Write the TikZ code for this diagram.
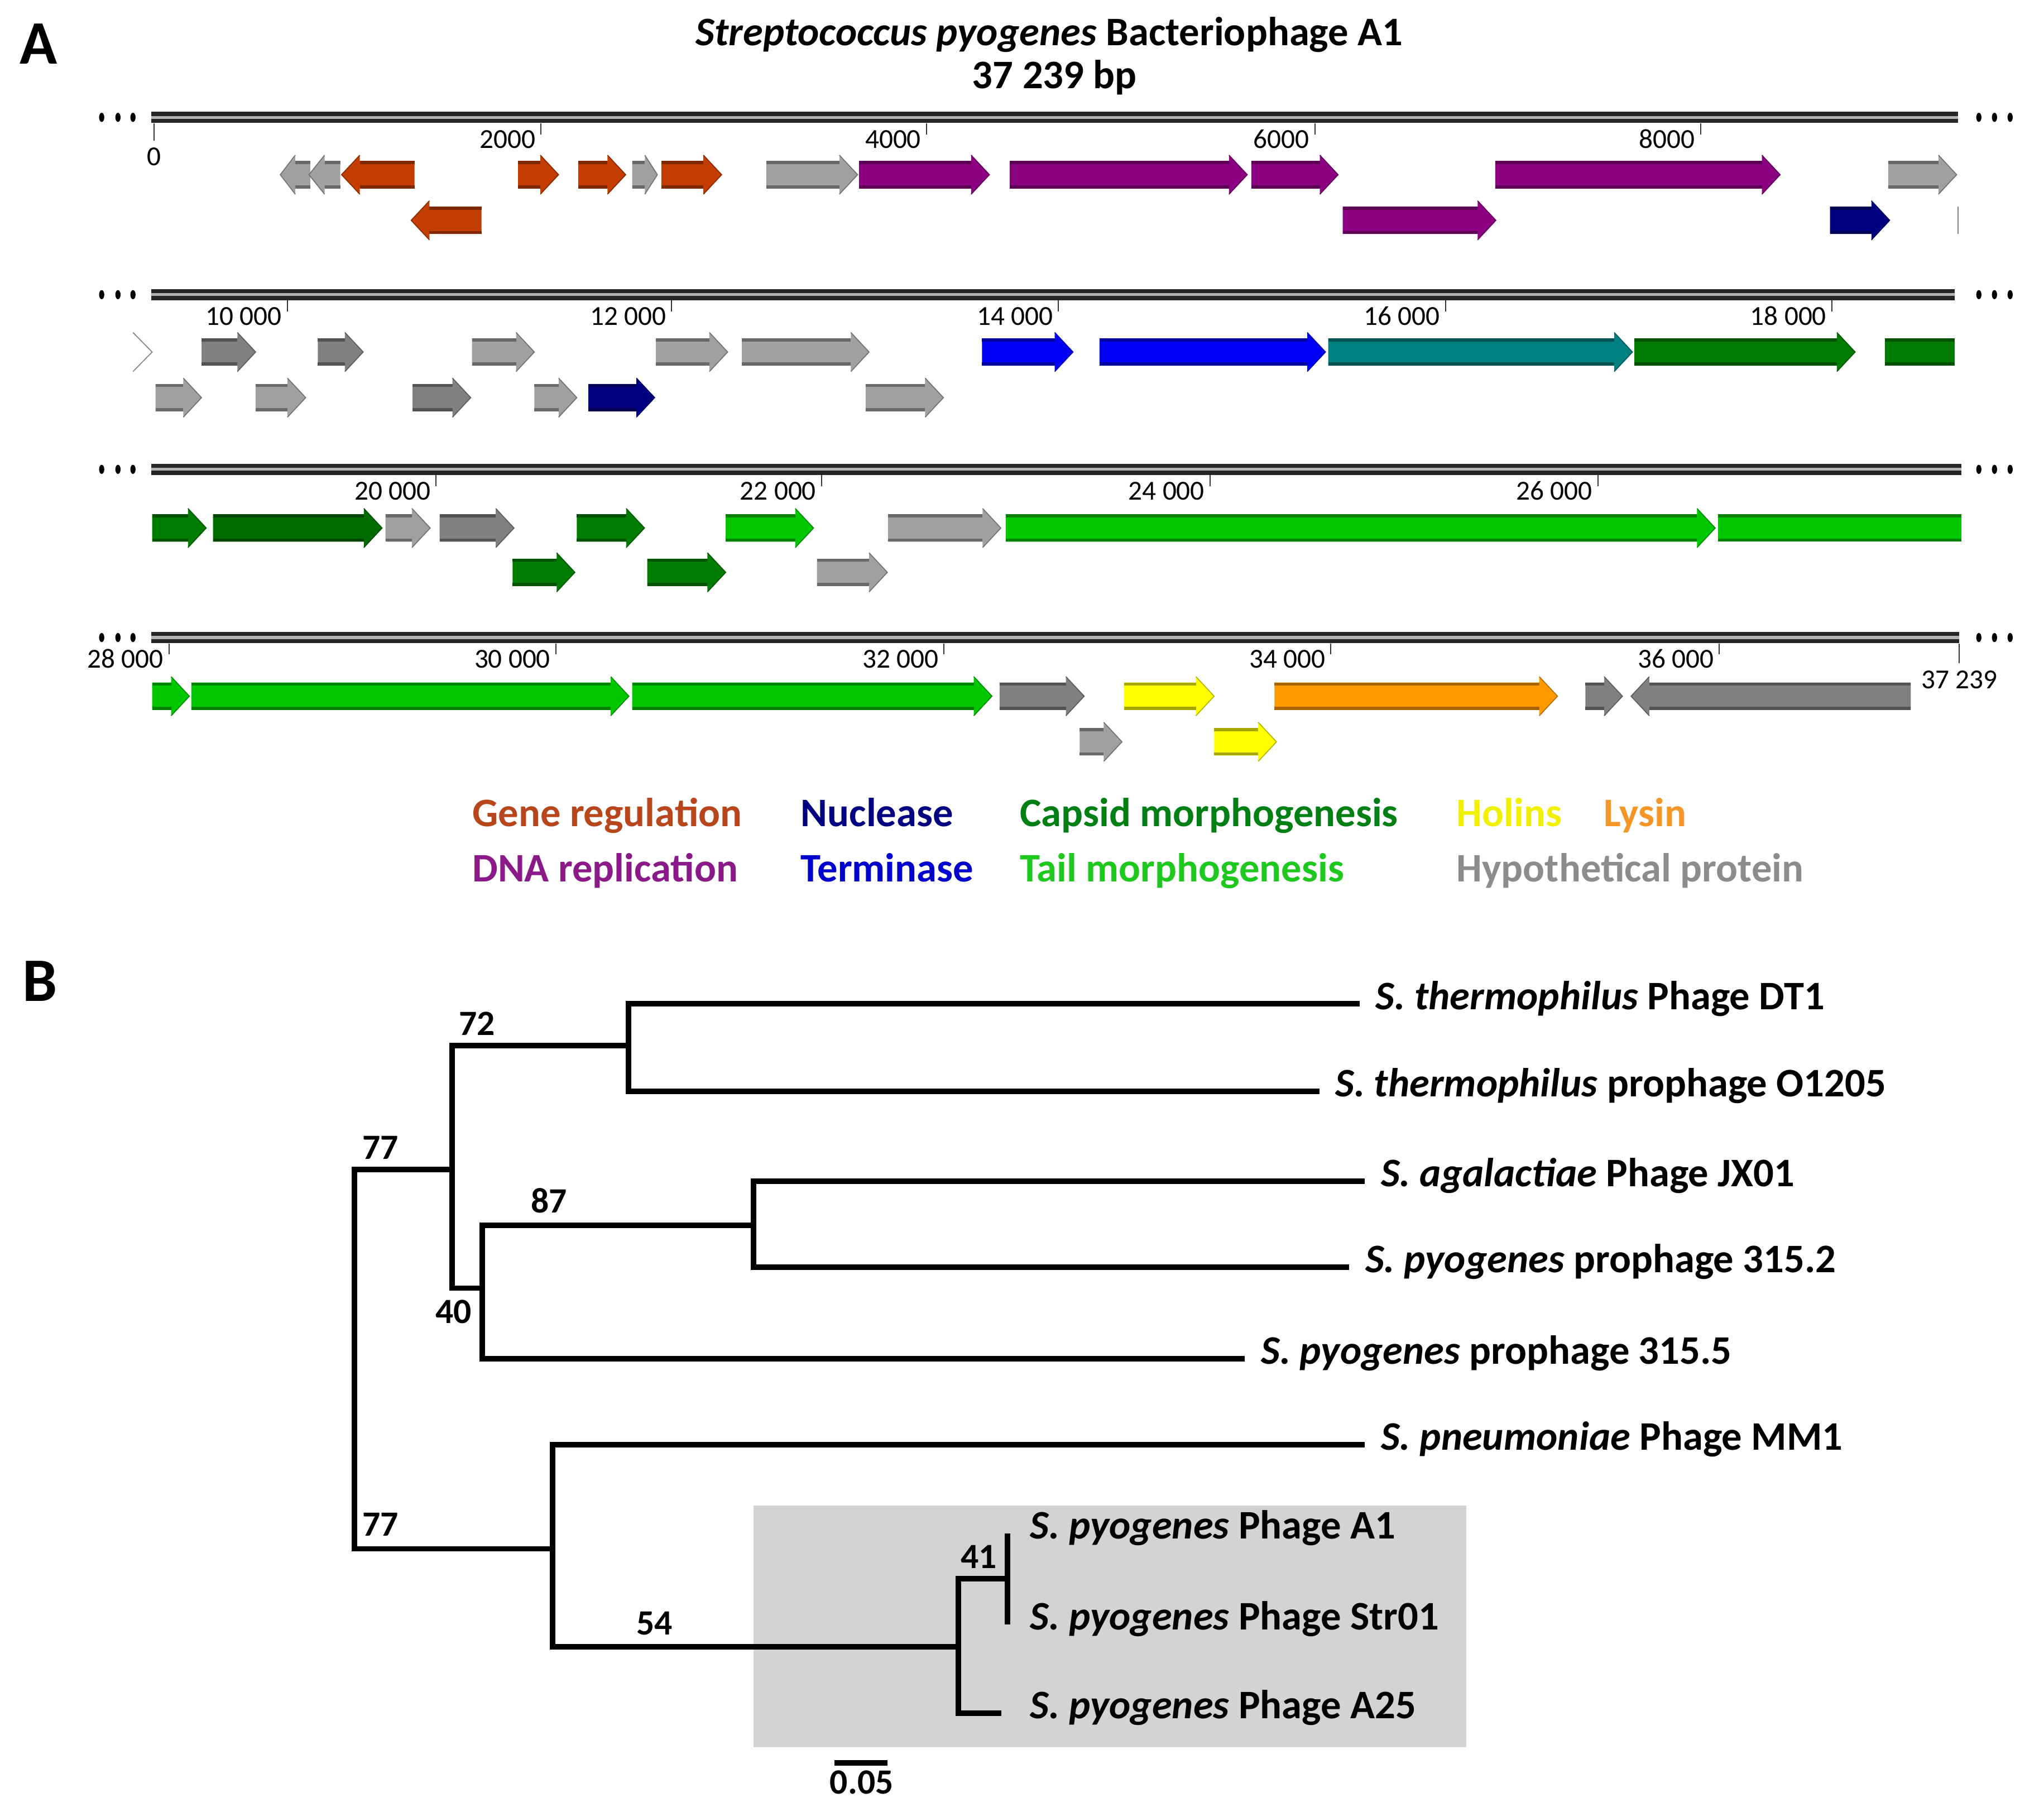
\documentclass[tikz,border=0pt]{standalone}
\usepackage{fontspec}
\setmainfont{Carlito}

\definecolor{generg}{RGB}{195,60,0}
\definecolor{dnarep}{RGB}{140,0,130}
\definecolor{nucl}{RGB}{0,0,128}
\definecolor{term}{RGB}{0,0,245}
\definecolor{portal}{RGB}{0,128,128}
\definecolor{capsid}{RGB}{0,125,0}
\definecolor{capsiddk}{RGB}{0,108,0}
\definecolor{tail}{RGB}{0,200,0}
\definecolor{holin}{RGB}{255,255,0}
\definecolor{lysin}{RGB}{255,153,0}
\definecolor{hypo}{RGB}{160,160,160}
\definecolor{hypodk}{RGB}{128,128,128}
\definecolor{txgenerg}{RGB}{183,70,28}
\definecolor{txdnarep}{RGB}{139,26,137}
\definecolor{txnucl}{RGB}{0,0,128}
\definecolor{txterm}{RGB}{0,0,204}
\definecolor{txcapsid}{RGB}{0,128,20}
\definecolor{txtail}{RGB}{30,200,30}
\definecolor{txholin}{RGB}{240,240,0}
\definecolor{txlysin}{RGB}{245,150,40}
\definecolor{txhypo}{RGB}{140,140,140}
\definecolor{cladebox}{RGB}{211,211,211}

\tikzset{geneedge/.style = {line width=1.4pt}}

% forward gene: start, tip, lane y, colour
\newcommand\genefwd[4]{%
  \pgfmathsetmacro\hbase{#2-min(14,0.5*(#2-#1))}%
  \fill[#4] (#1,#3-10.5) -- (\hbase,#3-10.5) -- (\hbase,#3-15) -- (#2,#3)
    -- (\hbase,#3+15) -- (\hbase,#3+10.5) -- (#1,#3+10.5) -- cycle;
  \draw[geneedge, draw=#4!65!black] (#1,#3-9.3) -- (\hbase,#3-9.3)
    (#1,#3+9.3) -- (\hbase,#3+9.3);
  \draw[draw=#4!70!black] (\hbase,#3-15) -- (#2,#3) -- (\hbase,#3+15);
}
% reverse gene: tip, end, lane y, colour
\newcommand\generev[4]{%
  \pgfmathsetmacro\hbase{#1+min(14,0.5*(#2-#1))}%
  \fill[#4] (#2,#3-10.5) -- (\hbase,#3-10.5) -- (\hbase,#3-15) -- (#1,#3)
    -- (\hbase,#3+15) -- (\hbase,#3+10.5) -- (#2,#3+10.5) -- cycle;
  \draw[geneedge, draw=#4!65!black] (#2,#3-9.3) -- (\hbase,#3-9.3)
    (#2,#3+9.3) -- (\hbase,#3+9.3);
  \draw[draw=#4!70!black] (\hbase,#3-15) -- (#1,#3) -- (\hbase,#3+15);
}
% gene cut at the row end
\newcommand\genebox[4]{%
  \fill[#4] (#1,#3-10.5) rectangle (#2,#3+10.5);
  \draw[geneedge, draw=#4!65!black] (#1,#3-9.3) -- (#2,#3-9.3)
    (#1,#3+9.3) -- (#2,#3+9.3);
}
% backbone: line y, end x
\newcommand\genomerow[2]{%
  \draw[backbone] (116,#1) -- (#2,#1);
  \fill (78,#1) ellipse [x radius=0.04cm, y radius=0.07cm]
        (90.5,#1) ellipse [x radius=0.04cm, y radius=0.07cm]
        (102,#1) ellipse [x radius=0.04cm, y radius=0.07cm]
        (1518,#1) ellipse [x radius=0.04cm, y radius=0.07cm]
        (1530,#1) ellipse [x radius=0.04cm, y radius=0.07cm]
        (1542,#1) ellipse [x radius=0.04cm, y radius=0.07cm];
}
% tick: name, x, line y, label
\newcommand\bptick[4]{%
  \draw[tickline] (#2,#3+4.5) -- (#2,#3+13);
  \node (#1) [ticklabel, anchor=base east] at (#2-4,#3+23.5) {#4};
}

\begin{document}
\begin{tikzpicture}[
    x = 0.02cm, y = -0.02cm,
    panel/.style     = {anchor=base west, inner sep=0pt,
                        font=\fontsize{27}{30}\selectfont\bfseries},
    heading/.style   = {anchor=base, inner sep=0pt,
                        font=\fontsize{17.7}{21}\selectfont\bfseries},
    legend/.style    = {anchor=base west, inner sep=0pt,
                        font=\fontsize{17.7}{21}\selectfont\bfseries},
    ticklabel/.style = {inner sep=0pt, font=\fontsize{12}{14}\selectfont},
    tickline/.style  = {line width=0.5pt, black!80},
    backbone/.style  = {draw=black!85, line width=1.8pt,
                        double=gray!60, double distance=1.3pt},
    leaf/.style      = {anchor=mid west, inner xsep=0.24cm, inner ysep=0pt,
                        font=\fontsize{17.7}{21}\selectfont\bfseries},
    boot/.style      = {anchor=base, inner sep=0pt,
                        font=\fontsize{15.5}{18}\selectfont\bfseries},
    branch/.style    = {line width=2.4pt}
]
\useasboundingbox (0,0) rectangle (1568,1386);

\node (pA) [panel] at (15,48.9) {A};
\node (title) [heading] at (805,34.7) {\textit{Streptococcus pyogenes} Bacteriophage A1};
\node (size) [heading] at (809,68) {37 239 bp};

% row 1
\genomerow{90}{1502}
\draw[tickline] (118.3,94.5) -- (118.3,108);
\node (t0) [ticklabel, anchor=base] at (118.3,127) {0};
\bptick{t2k}{415}{90}{2000}
\bptick{t4k}{710.8}{90}{4000}
\bptick{t6k}{1008.7}{90}{6000}
\bptick{t8k}{1304.6}{90}{8000}
\generev{215}{238}{134}{hypo}
\generev{237}{261}{134}{hypo}
\generev{262}{318}{134}{generg}
\genefwd{397.4}{428.5}{134}{generg}
\genefwd{443.6}{480}{134}{generg}
\genefwd{485}{504.3}{134}{hypo}
\genefwd{507.4}{553.6}{134}{generg}
\genefwd{587.8}{657.9}{134}{hypo}
\genefwd{659}{759}{134}{dnarep}
\genefwd{774.6}{956.8}{134}{dnarep}
\genefwd{959.9}{1026.5}{134}{dnarep}
\genefwd{1147}{1365.6}{134}{dnarep}
\genefwd{1448.5}{1501}{134}{hypo}
\generev{315.4}{369.4}{169}{generg}
\genefwd{1030}{1147.5}{169}{dnarep}
\genefwd{1403.8}{1449.6}{169}{nucl}
\draw[gray] (1502,158.5) -- (1502,179.5);

% row 2
\genomerow{226}{1499.4}
\bptick{t10k}{220.5}{226}{10 000}
\bptick{t12k}{515.2}{226}{12 000}
\bptick{t14k}{812}{226}{14 000}
\bptick{t16k}{1108.9}{226}{16 000}
\bptick{t18k}{1405.3}{226}{18 000}
\draw[gray] (102,255) -- (116.7,270) -- (102,285);
\genefwd{154.6}{196.1}{270}{hypodk}
\genefwd{243.8}{278.6}{270}{hypodk}
\genefwd{362.1}{409.9}{270}{hypo}
\genefwd{503.2}{558.2}{270}{hypo}
\genefwd{569.1}{666.7}{270}{hypo}
\genefwd{753.3}{823.1}{270}{term}
\genefwd{843.4}{1016.8}{270}{term}
\genefwd{1018.9}{1252.3}{270}{portal}
\genefwd{1253.8}{1423.1}{270}{capsid}
\genebox{1446}{1499.4}{270}{capsid}
\genefwd{119.3}{154.6}{305}{hypo}
\genefwd{196.1}{234.5}{305}{hypo}
\genefwd{316.5}{361.1}{305}{hypodk}
\genefwd{409.9}{442.5}{305}{hypo}
\genefwd{451.4}{502.2}{305}{nucl}
\genefwd{664}{723.7}{305}{hypo}

% row 3
\genomerow{360}{1504.5}
\bptick{t20k}{334.6}{360}{20 000}
\bptick{t22k}{630.3}{360}{22 000}
\bptick{t24k}{928.3}{360}{24 000}
\bptick{t26k}{1225.8}{360}{26 000}
\genefwd{116.7}{158.2}{405}{capsid}
\genefwd{163.4}{293.1}{405}{capsiddk}
\genefwd{295.7}{330}{405}{hypo}
\genefwd{337.2}{394.3}{405}{hypodk}
\genefwd{442.5}{494.4}{405}{capsid}
\genefwd{556.7}{624.1}{405}{tail}
\genefwd{681.2}{767.8}{405}{hypo}
\genefwd{771.5}{1315.8}{405}{tail}
\genebox{1317.8}{1504.5}{405}{tail}
\genefwd{393.2}{441}{439}{capsid}
\genefwd{496.5}{556.7}{439}{capsid}
\genefwd{626.7}{680.7}{439}{hypo}

% row 4
\genomerow{489}{1503}
\bptick{t28k}{129.7}{489}{28 000}
\bptick{t30k}{426.5}{489}{30 000}
\bptick{t32k}{724.2}{489}{32 000}
\bptick{t34k}{1020.9}{489}{34 000}
\bptick{t36k}{1318.9}{489}{36 000}
\draw[tickline] (1503,493.5) -- (1503,508.5);
\node (tend) [ticklabel, anchor=base] at (1503,528.2) {37 239};
\genefwd{116.7}{145.3}{534}{tail}
\genefwd{146.8}{482.5}{534}{tail}
\genefwd{485}{761}{534}{tail}
\genefwd{766.8}{831.7}{534}{hypodk}
\genefwd{862.2}{931.4}{534}{holin}
\genefwd{977.7}{1194.8}{534}{lysin}
\genefwd{1216.2}{1244.6}{534}{hypodk}
\generev{1251.2}{1465.8}{534}{hypodk}
\genefwd{828.2}{860.7}{569}{hypo}
\genefwd{931.4}{979.2}{569}{holin}

% legend
\node (lgr) [legend, txgenerg] at (362,633.7) {Gene regulation};
\node (lnu) [legend, txnucl]   at (614,633.7) {Nuclease};
\node (lca) [legend, txcapsid] at (782,633.7) {Capsid morphogenesis};
\node (lho) [legend, txholin]  at (1117,633.7) {Holins};
\node (lly) [legend, txlysin]  at (1230,633.7) {Lysin};
\node (ldn) [legend, txdnarep] at (362,676.5) {DNA replication};
\node (lte) [legend, txterm]   at (614,676.5) {Terminase};
\node (lta) [legend, txtail]   at (782,676.5) {Tail morphogenesis};
\node (lhy) [legend, txhypo]   at (1117,676.5) {Hypothetical protein};

% tree
\node (pB) [panel] at (17,768) {B};
\fill[cladebox] (578,1155) rectangle (1125,1340);

\coordinate (root) at (272,1040);
\coordinate (up) at (347,897);
\coordinate (th) at (482,802);
\coordinate (py) at (370,988);
\coordinate (ag) at (578,940);
\coordinate (lo) at (424,1188);
\coordinate (sp) at (735,1263);
\coordinate (ps) at (773,1211);

\node (dt1)   [leaf] at (1043,770)  {\textit{S. thermophilus} Phage DT1};
\node (o1205) [leaf] at (1012,837)  {\textit{S. thermophilus} prophage O1205};
\node (jx01)  [leaf] at (1047,906)  {\textit{S. agalactiae} Phage JX01};
\node (p3152) [leaf] at (1035,972)  {\textit{S. pyogenes} prophage 315.2};
\node (p3155) [leaf] at (955,1042)  {\textit{S. pyogenes} prophage 315.5};
\node (mm1)   [leaf] at (1047,1108) {\textit{S. pneumoniae} Phage MM1};
\node (a1)    [leaf, inner xsep=0.34cm] at (773,1176) {\textit{S. pyogenes} Phage A1};
\node (str01) [leaf, inner xsep=0.34cm] at (773,1246) {\textit{S. pyogenes} Phage Str01};
\node (a25)   [leaf, inner xsep=0.44cm] at (768,1314) {\textit{S. pyogenes} Phage A25};

\draw[branch] (root) |- (up) (root) |- (lo);
\draw[branch] (up) |- (th) (up) |- (py);
\draw[branch] (th) |- (dt1.mid west) (th) |- (o1205.mid west);
\draw[branch] (py) |- (ag) (py) |- (p3155.mid west);
\draw[branch] (ag) |- (jx01.mid west) (ag) |- (p3152.mid west);
\draw[branch] (lo) |- (mm1.mid west) (lo) |- (sp);
\draw[branch] (sp) |- (ps) (sp) |- (a25.mid west);
\draw[branch] (ps) |- (a1.mid west) (ps) |- (str01.mid west);

\node (b72)  [boot] at (366,794)  {72};
\node (b77u) [boot] at (292,889)  {77};
\node (b87)  [boot] at (421,930)  {87};
\node (b40)  [boot] at (348,1015) {40};
\node (b77l) [boot] at (292,1178) {77};
\node (b54)  [boot] at (502,1254) {54};
\node (b41)  [boot] at (751,1203) {41};

\coordinate (sbl) at (640,1352);
\coordinate (sbr) at (681,1352);
\draw[branch] (sbl) -- (sbr);
\node (sblab) [boot] at (661,1376) {0.05};
\end{tikzpicture}
\end{document}
